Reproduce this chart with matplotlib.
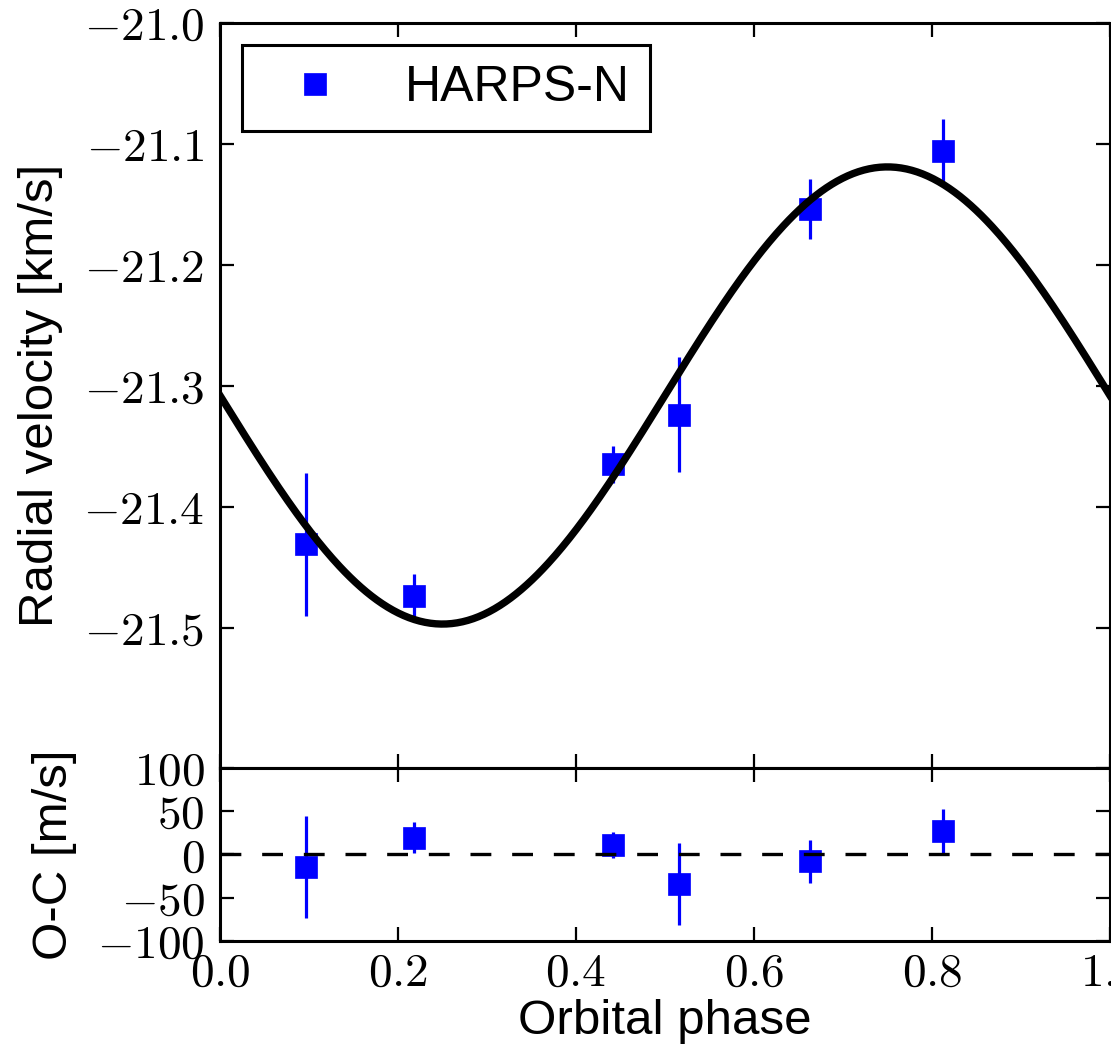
import numpy as np
import matplotlib
matplotlib.use('Agg')
import matplotlib.pyplot as plt
from matplotlib.ticker import FuncFormatter

# DATA
phase = [0.0966, 0.2184, 0.442, 0.5157, 0.663, 0.812]
rv = [-21.431, -21.474, -21.365, -21.324, -21.154, -21.1055]
rv_err = [0.059, 0.018, 0.015, 0.0475, 0.025, 0.026]
oc = [-14.7, 19.4, 11.3, -34.0, -7.8, 27.1]
oc_err = [59.0, 17.8, 15.0, 47.5, 25.0, 26.0]

# circular orbit model
gamma = -21.308
K = 0.189
model_phase = np.linspace(0, 1, 500)
model_rv = gamma - K * np.sin(2 * np.pi * model_phase)

rv_ticks = [-21.0, -21.1, -21.2, -21.3, -21.4, -21.5]
oc_ticks = [-100, -50, 0, 50, 100]
phase_ticks = [0.0, 0.2, 0.4, 0.6, 0.8, 1.0]

# STYLE
plt.rcParams['mathtext.fontset'] = 'cm'
plt.rcParams['font.family'] = ['Liberation Sans', 'DejaVu Sans']
plt.rcParams['lines.scale_dashes'] = False
tick_kw = dict(direction='in', length=10, width=1.6, top=True, right=True,
               labelsize=34)
mathfmt = FuncFormatter(lambda v, p: r'$%.1f$' % v)
intfmt = FuncFormatter(lambda v, p: r'$%d$' % v)

fig = plt.figure(figsize=(11.11, 10.5), dpi=100)
ax1 = fig.add_axes([0.198, 0.2686, 0.801, 0.7095])
ax2 = fig.add_axes([0.198, 0.1038, 0.801, 0.1648], sharex=ax1)

# TOP PANEL
ax1.errorbar(phase, rv, yerr=rv_err, fmt='s', color='blue', ms=16, mec='blue',
             mew=0.5, elinewidth=2.3, capsize=0, zorder=2)
ax1.plot(model_phase, model_rv, color='black', lw=5.3, zorder=3)
ax1.plot([], [], 's', color='blue', ms=16, mec='blue', mew=0.5, label='HARPS-N')
ax1.set_xlim(0, 1)
ax1.set_ylim(-21.616, -21.0)
ax1.set_yticks(rv_ticks)
ax1.yaxis.set_major_formatter(mathfmt)
ax1.tick_params(labelbottom=False, **tick_kw)
ax1.tick_params(axis='y', pad=11)
ax1.set_ylabel('Radial velocity [km/s]', fontsize=35.5)
ax1.yaxis.set_label_coords(-0.176, 0.5)
leg = ax1.legend(loc='upper left', numpoints=1, fontsize=36, fancybox=False,
                 framealpha=1, borderaxespad=0.45, borderpad=0.4,
                 handlelength=2.1, handletextpad=0.75)
leg.get_frame().set_edgecolor('black')
leg.get_frame().set_linewidth(2.2)

# RESIDUALS
ax2.errorbar(phase, oc, yerr=oc_err, fmt='s', color='blue', ms=16, mec='blue',
             mew=0.5, elinewidth=2.3, capsize=0, zorder=2)
ax2.axhline(0, color='black', lw=2.4, dashes=(15, 15), zorder=3)
ax2.set_ylim(-100, 100)
ax2.set_yticks(oc_ticks)
ax2.yaxis.set_major_formatter(intfmt)
ax2.set_xticks(phase_ticks)
ax2.xaxis.set_major_formatter(mathfmt)
ax2.tick_params(**tick_kw)
ax2.tick_params(axis='y', pad=11)
ax2.tick_params(axis='x', pad=8)
ax2.set_ylabel('O-C [m/s]', fontsize=35.5)
ax2.yaxis.set_label_coords(-0.161, 0.5)
ax2.set_xlabel('Orbital phase', fontsize=35.5, labelpad=2)

for ax in (ax1, ax2):
    for s in ax.spines.values():
        s.set_linewidth(2.2)

fig.savefig('out.png', dpi=100)
